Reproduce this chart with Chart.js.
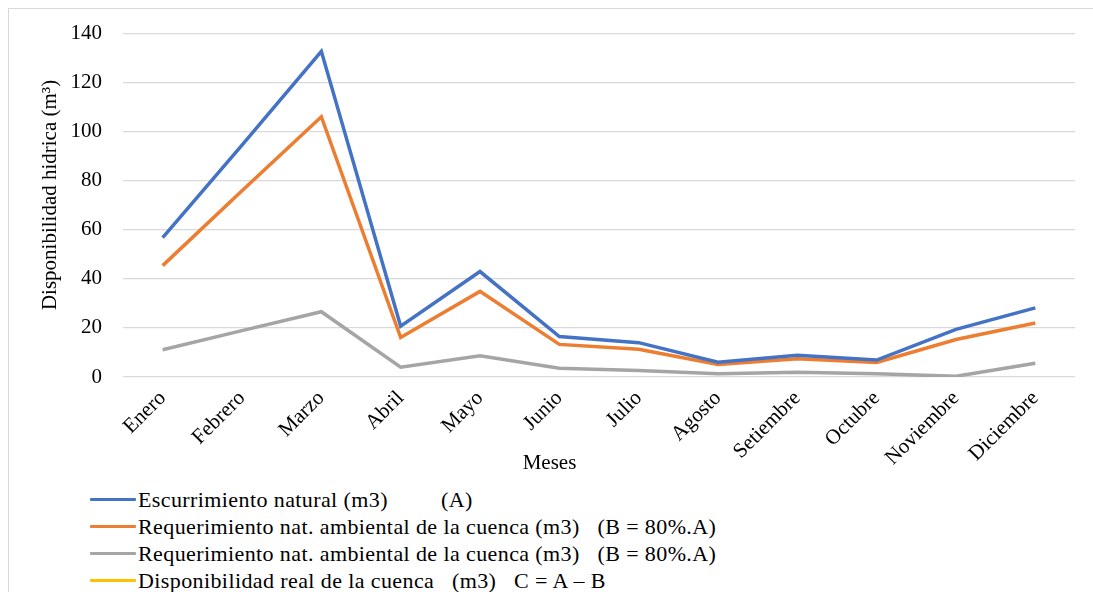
<!DOCTYPE html>
<html>
<head>
<meta charset="utf-8">
<script src="https://cdn.jsdelivr.net/npm/chart.js@4.4.1/dist/chart.umd.min.js"></script>
<style>
  html, body { margin: 0; padding: 0; background: #fff; font-family: 'Liberation Serif', serif; }
  #wrap { position: relative; width: 1093px; height: 592px; overflow: hidden; background: #fff; }
  #frame { position: absolute; left: 8px; top: 8px; width: 1200px; height: 700px;
           border-top: 1px solid #d9d9d9; border-left: 1px solid #d9d9d9; }
  #plot { position: absolute; left: 0; top: 0; }
  #legend { position: absolute; left: 90px; top: 486px; font-family: 'Liberation Serif', serif;
            font-size: 22px; letter-spacing: 0.4px; color: #000; }
  .item { display: flex; align-items: center; height: 27px; white-space: pre; }
  .swatch { width: 46px; height: 3px; margin-right: 2px; border-radius: 1px; }
</style>
</head>
<body>
<div id="wrap">
  <div id="frame"></div>
  <canvas id="plot" width="1093" height="480"></canvas>
  <div id="legend"></div>
</div>
<script>
// Meses del año
const months = ['Enero', 'Febrero', 'Marzo', 'Abril', 'Mayo', 'Junio', 'Julio',
                'Agosto', 'Setiembre', 'Octubre', 'Noviembre', 'Diciembre'];

// (A) Escurrimiento natural
const escurrimiento = [56.8, 94.5, 132.8, 20.7, 43.0, 16.5, 14.0, 6.0, 8.9, 6.9, 19.4, 28.2];
// (B) Requerimiento nat. ambiental
const requerimiento = [45.4, 75.9, 106.1, 16.1, 34.9, 13.3, 11.3, 5.1, 7.4, 5.9, 15.3, 22.0];
// Requerimiento (segunda serie)
const requerimiento2 = [11.1, 18.9, 26.6, 4.0, 8.7, 3.6, 2.7, 1.3, 1.9, 1.3, 0.3, 5.6];
// (C) Disponibilidad real: sin valores graficados
const disponibilidad = [];

const yTicks = [0, 20, 40, 60, 80, 100, 120, 140];

const seriesLabels = [
  'Escurrimiento natural (m3)         (A)',
  'Requerimiento nat. ambiental de la cuenca (m3)   (B = 80%.A)',
  'Requerimiento nat. ambiental de la cuenca (m3)   (B = 80%.A)',
  'Disponibilidad real de la cuenca   (m3)   C = A \u2013 B'
];
const seriesColors = ['#4472C4', '#ED7D31', '#A5A5A5', '#FFC000'];
const seriesData = [escurrimiento, requerimiento, requerimiento2, disponibilidad];

const FONT = "'Liberation Serif', serif";
const FONT_PX = 21;

// Axis titles drawn at fixed spots beside the plot area
const axisTitles = {
  id: 'axisTitles',
  afterDraw(chart) {
    const { ctx, chartArea } = chart;
    ctx.save();
    ctx.font = FONT_PX + "px 'Liberation Serif', serif";
    ctx.fillStyle = '#000';
    ctx.textAlign = 'center';
    ctx.textBaseline = 'middle';
    ctx.fillText('Meses', chartArea.left + (chartArea.right - chartArea.left) * 0.448, 463);
    ctx.translate(50, chartArea.top + (chartArea.bottom - chartArea.top) * 0.47);
    ctx.rotate(-Math.PI / 2);
    ctx.fillText('Disponibilidad hidrica (m\u00B3)', 0, 0);
    ctx.restore();
  }
};

Chart.defaults.font.family = FONT;

const chart = new Chart(document.getElementById('plot'), {
  type: 'line',
  data: {
    labels: months,
    datasets: seriesData.map((d, i) => ({
      label: seriesLabels[i],
      data: d,
      borderColor: seriesColors[i],
      backgroundColor: seriesColors[i],
      borderWidth: 3.5,
      pointRadius: 0,
      tension: 0,
      fill: false
    }))
  },
  options: {
    responsive: false,
    animation: false,
    layout: { padding: { left: 10, right: 18, top: 30, bottom: 0 } },
    plugins: {
      legend: { display: false },
      tooltip: { enabled: false }
    },
    scales: {
      x: {
        offset: true,
        grid: { display: false, drawTicks: false },
        border: { display: false },
        ticks: {
          autoSkip: false,
          minRotation: 45,
          maxRotation: 45,
          padding: 9,
          color: '#000',
          font: { family: FONT, size: FONT_PX }
        },
        afterFit(scale) { scale.height = 103; }
      },
      y: {
        min: 0,
        max: 140,
        afterBuildTicks(scale) { scale.ticks = yTicks.map(v => ({ value: v })); },
        grid: { color: '#d9d9d9', lineWidth: 1.3, drawTicks: false },
        border: { display: false },
        ticks: {
          padding: 21,
          color: '#000',
          font: { family: FONT, size: FONT_PX }
        },
        afterFit(scale) { scale.width = 113; }
      }
    }
  },
  plugins: [axisTitles]
});

// Legend list, one series per row
const legend = document.getElementById('legend');
chart.data.datasets.forEach(ds => {
  const row = document.createElement('div');
  row.className = 'item';
  const sw = document.createElement('span');
  sw.className = 'swatch';
  sw.style.background = ds.borderColor;
  const tx = document.createElement('span');
  tx.textContent = ds.label;
  row.appendChild(sw);
  row.appendChild(tx);
  legend.appendChild(row);
});
</script>
</body>
</html>
